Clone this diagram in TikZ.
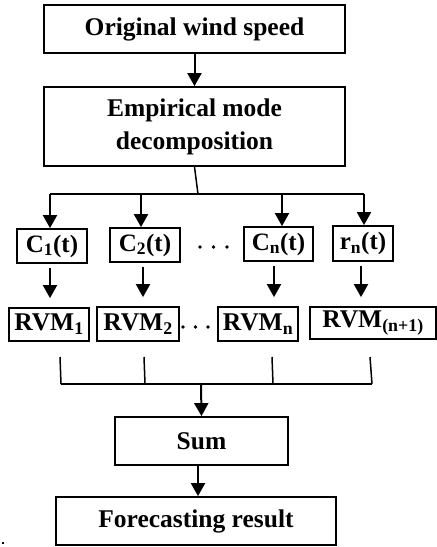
\documentclass[tikz,border=0pt]{standalone}
\usepackage{fontspec}
\setmainfont{Liberation Serif}
\usetikzlibrary{arrows.meta}
\begin{document}
\begin{tikzpicture}[x=1pt,y=-1pt,
  box/.style={draw, line width=1.8pt, inner sep=0pt, align=center,
    font=\bfseries\fontsize{25.5}{33}\selectfont},
  cbox/.style={box, font=\bfseries\fontsize{25}{28}\selectfont},
  arr/.style={-{Triangle[length=13pt,width=14pt]}, line width=2pt},
  wire/.style={line width=1.5pt}]
\useasboundingbox (0,0) rectangle (437,547);
% main boxes
\node[box, minimum width=301pt, minimum height=48pt] (orig) at (194.5,29) {Original wind speed};
\node[box, minimum width=301pt, minimum height=79pt] (emd) at (194.5,126.5) {Empirical mode\\decomposition};
% component boxes
\node[cbox, minimum width=70pt, minimum height=34pt] (c1) at (52,246) {C\textsubscript{1}(t)};
\node[cbox, minimum width=70pt, minimum height=34pt] (c2) at (145,245) {C\textsubscript{2}(t)};
\node[cbox, minimum width=69pt, minimum height=34pt] (cn) at (278.5,244) {C\textsubscript{n}(t)};
\node[cbox, minimum width=60pt, minimum height=35pt] (rn) at (363,243.5) {r\textsubscript{n}(t)};
% RVM boxes
\node[box, minimum width=80pt, minimum height=33pt] (r1) at (49,324.5) {RVM\textsubscript{1}};
\node[box, minimum width=82pt, minimum height=34pt] (r2) at (138,324) {RVM\textsubscript{2}};
\node[box, minimum width=80pt, minimum height=34pt] (rn1) at (258,324) {RVM\textsubscript{n}};
\node[box, minimum width=126pt, minimum height=32pt] (rn2) at (373,323) {RVM\textsubscript{(n+1)}};
% sum and result
\node[box, minimum width=173pt, minimum height=48pt] (sum) at (201.5,441) {Sum};
\node[box, minimum width=280pt, minimum height=48pt] (res) at (196,521) {Forecasting result};
% top arrow
\draw[arr] (orig.south) -- (emd.north);
% split bus
\coordinate (b0) at (198,194);
\coordinate (b1) at (50,194);
\coordinate (b2) at (141,194);
\coordinate (b3) at (282,194);
\coordinate (b4) at (364,194);
\draw[wire] (emd.south) -- (b0);
\draw[wire] (b1) -- (b4);
\draw[arr] (b1) -- (b1 |- c1.north);
\draw[arr] (b2) -- (b2 |- c2.north);
\draw[arr] (b3) -- (b3 |- cn.north);
\draw[arr] (b4) -- (b4 |- rn.north);
% C -> RVM arrows
\draw[arr, shorten <=4pt, shorten >=9pt] ([xshift=-2pt]c1.south) -- ([xshift=-2pt]c1.south |- r1.north);
\draw[arr, shorten <=4pt, shorten >=9pt] ([xshift=-2pt]c2.south) -- ([xshift=-2pt]c2.south |- r2.north);
\draw[arr, shorten <=4pt, shorten >=9pt] ([xshift=-4.5pt]cn.south) -- ([xshift=-4.5pt]cn.south |- rn1.north);
\draw[arr, shorten <=4pt, shorten >=9pt] ([xshift=-2pt]rn.south) -- ([xshift=-2pt]rn.south |- rn2.north);
% dots
\foreach \x in {200,213.5,227} \fill (\x,247) circle (1.9pt);
\foreach \x in {183,195.5,208} \fill (\x,327) circle (1.9pt);
% collecting lines
\coordinate (t1) at (60,357);  \coordinate (u1) at (61,384);
\coordinate (t2) at (144,357); \coordinate (u2) at (145,384);
\coordinate (t3) at (272,357); \coordinate (u3) at (273,384);
\coordinate (t4) at (370,357); \coordinate (u4) at (372,384);
\draw[wire] (t1) -- (u1);
\draw[wire] (t2) -- (u2);
\draw[wire] (t3) -- (u3);
\draw[wire] (t4) -- (u4);
\draw[wire] (u1) -- (u4);
\coordinate (s0) at (201,384);
\draw[arr] (s0) -- (sum.north);
\draw[arr] ([xshift=-3.5pt]sum.south) -- ([xshift=-3.5pt]sum.south |- res.north);
% stray mark
\fill (1.5,541.5) rectangle (3.5,543.5);
\end{tikzpicture}
\end{document}
